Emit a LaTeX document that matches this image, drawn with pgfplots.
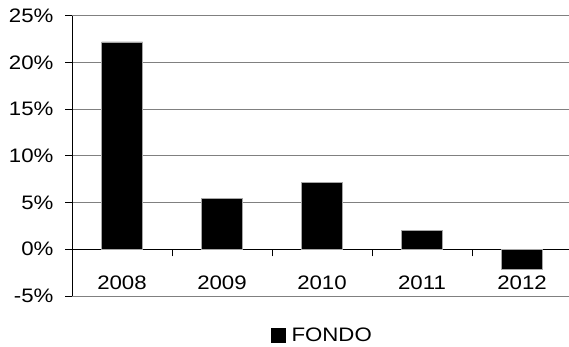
\documentclass[border=0pt]{standalone}
\usepackage{pgfplots}
\pgfplotsset{compat=1.18}
\usepackage{fontspec}
\setmainfont{Liberation Sans}[FakeStretch=1.14]
\usetikzlibrary{calc}

\begin{document}
\begin{tikzpicture}
\begin{axis}[
    scale only axis,
    width=497pt, height=280.3pt,
    xmin=-0.5, xmax=4.47,
    ymin=-5, ymax=25,
    axis x line=middle,
    axis y line=left,
    axis line style={-, black, line width=0.8pt},
    ybar, bar width=0.41,
    tick align=outside,
    major tick length=7pt,
    tick style={black, line width=0.8pt},
    xtick={0.5,1.5,2.5,3.5},
    xticklabels={},
    extra x ticks={0,1,2,3,4},
    extra x tick labels={2008,2009,2010,2011,2012},
    extra x tick style={major tick length=0pt},
    xticklabel style={anchor=center, yshift=-34pt},
    ytick={-5,0,5,10,15,20,25},
    yticklabels={-5\%,0\%,5\%,10\%,15\%,20\%,25\%},
    yticklabel style={xshift=-8pt},
    ymajorgrids,
    grid style={gray, line width=0.8pt},
    tick label style={font=\fontsize{19.5}{22}\selectfont},
    legend style={at={(0.5,0)}, anchor=center, yshift=-39pt, xshift=2pt,
        draw=none, fill=none, font=\fontsize{19.5}{22}\selectfont,
        /tikz/every odd column/.append style={column sep=4pt}},
    legend image code/.code={\fill[black] (0pt,-7pt) rectangle (14pt,7pt);},
]
\coordinate (sw) at (rel axis cs:0,0);
\coordinate (ne) at (rel axis cs:1,1);
\addplot[fill=black, draw=gray!70] coordinates {
    (0, 22.2)
    (1, 5.46)
    (2, 7.17)
    (3, 2.0)
    (4, -2.1)
};
\legend{FONDO}
\end{axis}
\pgfresetboundingbox
\path[use as bounding box] ($(sw)+(-72pt,-50.7pt)$) rectangle ($(ne)+(0pt,15.7pt)$);
\end{tikzpicture}
\end{document}
